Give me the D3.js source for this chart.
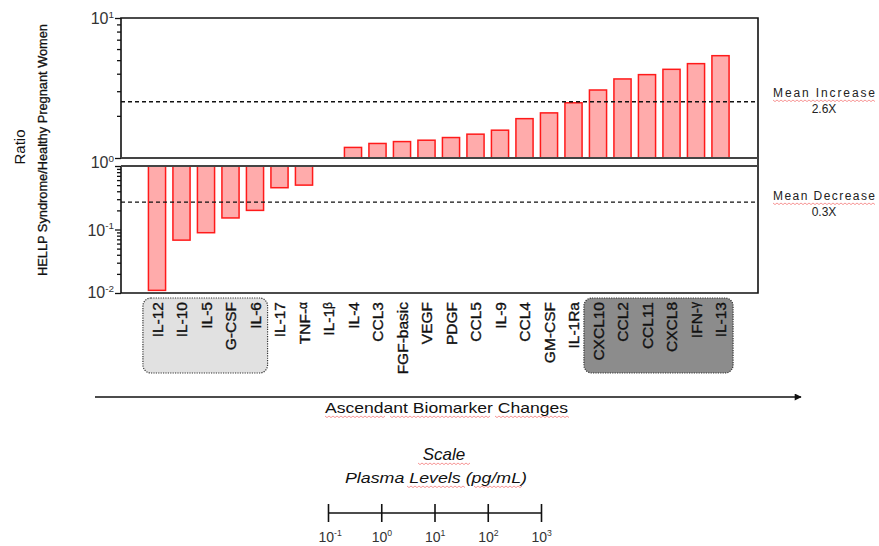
<!DOCTYPE html>
<html>
<head>
<meta charset="utf-8">
<script src="https://cdn.jsdelivr.net/npm/d3@7"></script>
<style>
  body { margin: 0; background: #fff; }
  svg { display: block; font-family: Arial, "Liberation Sans", sans-serif; }
</style>
</head>
<body>
<div id="chart"></div>
<script>
// data
const categories = ["IL-12", "IL-10", "IL-5", "G-CSF", "IL-6", "IL-17", "TNF-α", "IL-1β", "IL-4", "CCL3",
  "FGF-basic", "VEGF", "PDGF", "CCL5", "IL-9", "CCL4", "GM-CSF", "IL-1Ra", "CXCL10", "CCL2",
  "CCL11", "CXCL8", "IFN-γ", "IL-13"];
const ratios = [0.011, 0.068, 0.089, 0.152, 0.20, 0.455, 0.50, 1, 1.19, 1.27,
  1.31, 1.34, 1.40, 1.48, 1.58, 1.91, 2.10, 2.48, 3.06, 3.67,
  3.94, 4.30, 4.72, 5.38];
const meanIncrease = 2.52;
const meanDecrease = 0.27;
const lowGroup = ["IL-12", "IL-10", "IL-5", "G-CSF", "IL-6"];
const highGroup = ["CXCL10", "CCL2", "CCL11", "CXCL8", "IFN-γ", "IL-13"];
const scaleExponents = [-1, 0, 1, 2, 3];

const W = 879, H = 546;
const left = 121, right = 758;

const svg = d3.select("#chart").append("svg")
  .attr("width", W).attr("height", H);

const x = d3.scaleBand().domain(categories)
  .range([144.75, 732.75]).paddingInner(0.3).paddingOuter(0.15);
const yUp = d3.scaleLog().domain([1, 10]).range([158, 18]);
const yLo = d3.scaleLog().domain([1, 0.01]).range([166, 293]);

// red squiggle like the spell-check marks in the original
function squiggle(x0, x1, y) {
  let d = `M${x0},${y}`;
  for (let xx = x0, k = 0; xx < x1; xx += 2, k++) d += `L${xx + 2},${y + (k % 2 ? 0 : 1.6)}`;
  svg.append("path").attr("d", d).attr("fill", "none")
    .attr("stroke", "#f26d6d").attr("stroke-width", 0.9).attr("opacity", 0.8);
}

// bars
const data = categories.map((c, i) => ({ c, v: ratios[i] }));
svg.append("g").selectAll("rect")
  .data(data.filter(d => d.v !== 1))
  .join("rect")
  .attr("x", d => x(d.c))
  .attr("width", x.bandwidth())
  .attr("y", d => d.v > 1 ? yUp(d.v) : yLo(1))
  .attr("height", d => d.v > 1 ? yUp(1) - yUp(d.v) : yLo(d.v) - yLo(1))
  .attr("fill", "#ffabab")
  .attr("stroke", "#ff1a1a")
  .attr("stroke-width", 1.5);

// mean lines
[yUp(meanIncrease), yLo(meanDecrease)].forEach(yy => {
  svg.append("line").attr("x1", left).attr("x2", right).attr("y1", yy).attr("y2", yy)
    .attr("stroke", "#111").attr("stroke-width", 1.4).attr("stroke-dasharray", "4,3");
});

// panel frames
svg.append("path")
  .attr("d", `M${left},158V18H${right}V166`)
  .attr("fill", "none").attr("stroke", "#111").attr("stroke-width", 1.6);
svg.append("path")
  .attr("d", `M${left},166V293H${right}V166`)
  .attr("fill", "none").attr("stroke", "#111").attr("stroke-width", 1.6);
svg.append("line").attr("x1", left).attr("x2", right).attr("y1", 158).attr("y2", 158)
  .attr("stroke", "#444").attr("stroke-width", 2);
svg.append("line").attr("x1", left).attr("x2", right).attr("y1", 166).attr("y2", 166)
  .attr("stroke", "#444").attr("stroke-width", 2);

// log axes with minor ticks
const upTicks = d3.range(1, 11);
const loTicks = d3.range(1, 10).map(k => k / 100).concat(d3.range(1, 10).map(k => k / 10), [1]);
function minorAxis(scale, ticks) {
  const g = svg.append("g").attr("transform", `translate(${left},0)`)
    .call(d3.axisLeft(scale).tickValues(ticks).tickSize(4).tickFormat(""));
  g.select(".domain").remove();
  g.selectAll(".tick line")
    .attr("stroke", "#111").attr("stroke-width", 1.3)
    .attr("x2", d => [1, 10, 0.1, 0.01].some(m => Math.abs(d - m) < 1e-9) ? -6 : -4);
}
minorAxis(yUp, upTicks);
minorAxis(yLo, loTicks);

function powerLabel(xx, yy, exp, size, anchor) {
  const t = svg.append("text").attr("x", xx).attr("y", yy)
    .attr("text-anchor", anchor).attr("fill", "#333").style("font-size", size + "px");
  t.append("tspan").text("10");
  t.append("tspan").text(exp).attr("dy", -size * 0.4).style("font-size", (size * 0.62) + "px");
  return t;
}
powerLabel(114, 24, "1", 16, "end");
powerLabel(114, 168, "0", 16, "end");
powerLabel(114, yLo(0.1) + 6, "-1", 16, "end");
powerLabel(114, yLo(0.01) + 5, "-2", 16, "end");

// y titles
svg.append("text").attr("transform", "translate(25,147) rotate(-90)")
  .attr("text-anchor", "middle").style("font-size", "15px").attr("fill", "#111").text("Ratio");
svg.append("text").attr("transform", "translate(47,150) rotate(-90)")
  .attr("text-anchor", "middle").style("font-size", "12px").attr("fill", "#111")
  .attr("stroke", "#111").attr("stroke-width", 0.3)
  .attr("textLength", 252).attr("lengthAdjust", "spacingAndGlyphs")
  .text("HELLP Syndrome/Healthy Pregnant Women");

// mean labels
function meanLabel(line1, line2, y1, y2) {
  svg.append("text").attr("x", 773).attr("y", y1)
    .style("font-size", "12px").attr("fill", "#222")
    .attr("textLength", 102).attr("lengthAdjust", "spacing").text(line1);
  squiggle(773, 875, y1 + 3);
  svg.append("text").attr("x", 824).attr("y", y2).attr("text-anchor", "middle")
    .style("font-size", "12px").attr("fill", "#222").text(line2);
}
meanLabel("Mean  Increase", "2.6X", 97, 113);
meanLabel("Mean  Decrease", "0.3X", 200, 216);

// group boxes
function groupBox(names, fill) {
  const x0 = x(names[0]) - 5.5, x1 = x(names[names.length - 1]) + x.bandwidth() + 4;
  svg.append("rect").attr("x", x0).attr("y", 298).attr("width", x1 - x0).attr("height", 75)
    .attr("rx", 8).attr("fill", fill)
    .attr("stroke", "#333").attr("stroke-width", 1.2).attr("stroke-dasharray", "1.2,1.2");
}
groupBox(lowGroup, "#e1e1e1");
groupBox(highGroup, "#8c8c8c");

// category labels
const greek = /([αβγ])$/;
svg.append("g").selectAll("text")
  .data(categories)
  .join("text")
  .attr("transform", d => `translate(${x(d) + x.bandwidth() / 2},302) rotate(-90)`)
  .attr("text-anchor", "end")
  .attr("dy", "0.36em")
  .style("font-size", "15.5px")
  .attr("fill", "#111")
  .attr("stroke", "#111").attr("stroke-width", 0.35)
  .each(function (d) {
    const t = d3.select(this);
    const m = d.match(greek);
    if (m) {
      t.append("tspan").text(d.slice(0, -1));
      t.append("tspan").text(m[1]).style("font-size", "12px").attr("dy", "-0.2em");
    } else {
      t.text(d);
    }
  });

// arrow
svg.append("defs").append("marker").attr("id", "arr")
  .attr("viewBox", "0 0 10 10").attr("refX", 9).attr("refY", 5)
  .attr("markerWidth", 9).attr("markerHeight", 7).attr("orient", "auto")
  .attr("markerUnits", "userSpaceOnUse")
  .append("path").attr("d", "M0,0L10,5L0,10Z").attr("fill", "#111");
svg.append("line").attr("x1", 95).attr("x2", 801).attr("y1", 397).attr("y2", 397)
  .attr("stroke", "#111").attr("stroke-width", 1.6).attr("marker-end", "url(#arr)");
svg.append("text").attr("x", 325).attr("y", 413)
  .style("font-size", "15px").attr("fill", "#111")
  .attr("textLength", 243).attr("lengthAdjust", "spacingAndGlyphs")
  .text("Ascendant Biomarker Changes");
squiggle(325, 385, 416); squiggle(390, 490, 416); squiggle(495, 568, 416);

// scale legend
svg.append("text").attr("x", 444).attr("y", 460).attr("text-anchor", "middle")
  .style("font-size", "17px").style("font-style", "italic").attr("fill", "#111").text("Scale");
squiggle(418, 470, 463);
svg.append("text").attr("x", 345).attr("y", 483)
  .style("font-size", "15px").style("font-style", "italic").attr("fill", "#111")
  .attr("textLength", 182).attr("lengthAdjust", "spacingAndGlyphs")
  .text("Plasma Levels (pg/mL)");
squiggle(407, 464, 486); squiggle(474, 522, 486);

const xs = d3.scaleLinear().domain([-1, 3]).range([328.5, 541.5]);
const sg = svg.append("g").attr("transform", "translate(0,513)");
sg.append("line").attr("x1", xs(-1)).attr("x2", xs(3)).attr("stroke", "#111").attr("stroke-width", 1.6);
sg.selectAll(".st").data(scaleExponents).join("line").attr("class", "st")
  .attr("x1", d => xs(d)).attr("x2", d => xs(d)).attr("y1", -9).attr("y2", 9)
  .attr("stroke", "#111").attr("stroke-width", 1.6);
scaleExponents.forEach(e => powerLabel(xs(e) - 10, 542, String(e), 14, "start"));
</script>
</body>
</html>
